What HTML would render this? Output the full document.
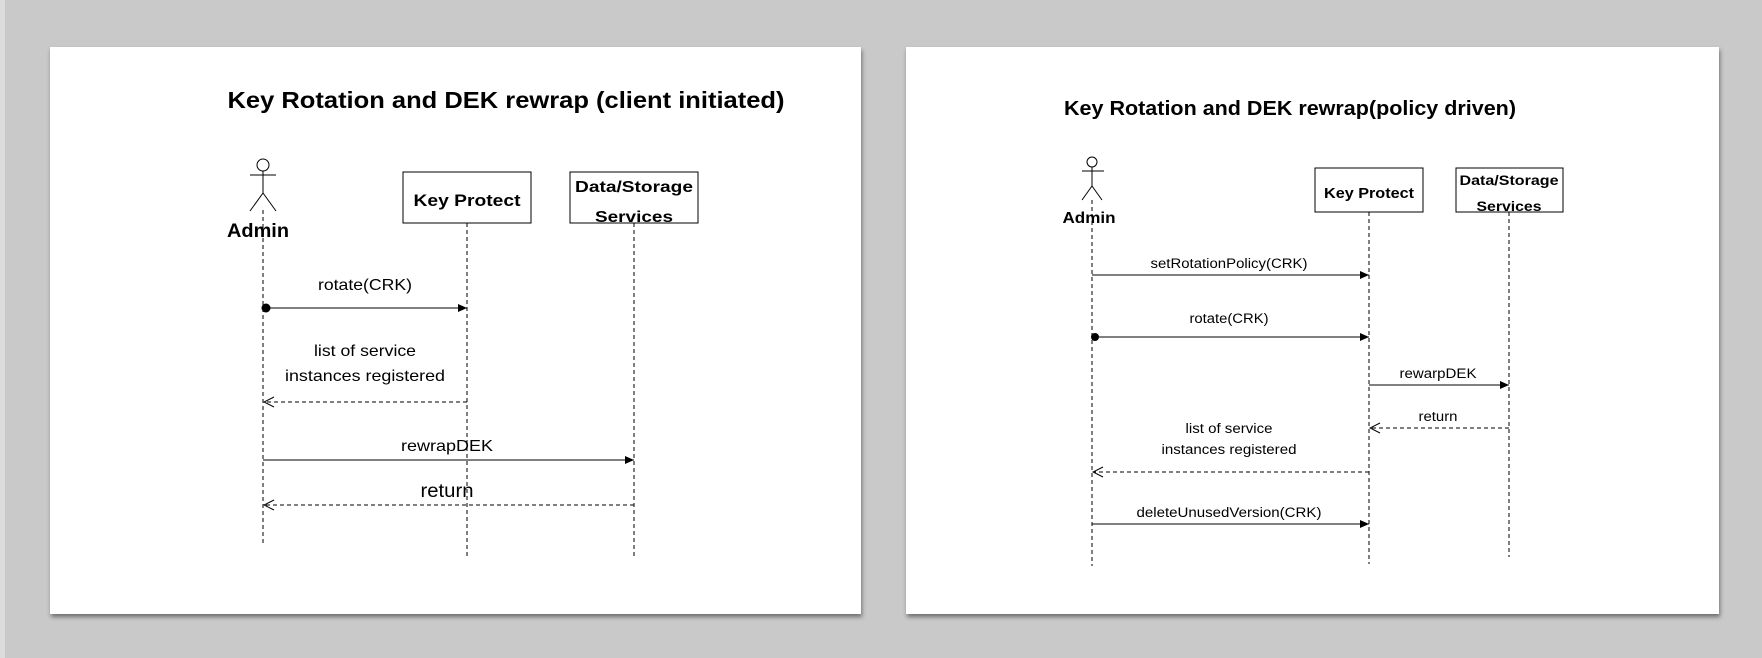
<!DOCTYPE html>
<html><head><meta charset="utf-8"><style>
html,body{margin:0;padding:0;background:#c8c9c8;}
svg{display:block;font-family:"Liberation Sans",Arial,sans-serif;}
</style></head><body>
<svg width="1762" height="658" viewBox="0 0 1762 658" xmlns="http://www.w3.org/2000/svg">
<defs>
<filter id="sh" x="-5%" y="-5%" width="110%" height="115%"><feDropShadow dx="1" dy="3" stdDeviation="2" flood-color="#000" flood-opacity="0.45"/></filter>
<marker id="fa" markerWidth="10" markerHeight="10" refX="9" refY="5" orient="auto" markerUnits="userSpaceOnUse"><path d="M0,1 L9,5 L0,9 Z" fill="#000"/></marker>
<marker id="oa" markerWidth="12" markerHeight="12" refX="11" refY="6" orient="auto" markerUnits="userSpaceOnUse"><path d="M1,1 L11,6 L1,11" fill="none" stroke="#000" stroke-width="1"/></marker>
</defs>
<rect x="0" y="0" width="5" height="658" fill="#dcdcdc"/>
<rect x="50" y="47" width="811" height="567" fill="#fff" filter="url(#sh)"/>
<rect x="906" y="47" width="813" height="567" fill="#fff" filter="url(#sh)"/>

<g stroke="#000" fill="none" stroke-width="1">
<circle cx="263" cy="165" r="6"/>
<line x1="250" y1="175" x2="276" y2="175"/>
<line x1="263" y1="171" x2="263" y2="193"/>
<line x1="263" y1="193" x2="250" y2="211"/>
<line x1="263" y1="193" x2="276" y2="211"/>
<rect x="403" y="172" width="128" height="51"/>
<rect x="570" y="172" width="128" height="51"/>
<g stroke-dasharray="4,3">
<line x1="263" y1="210" x2="263" y2="543"/>
<line x1="467" y1="223" x2="467" y2="556"/>
<line x1="634" y1="223" x2="634" y2="556"/>
<line x1="467" y1="402" x2="264" y2="402" marker-end="url(#oa)"/>
<line x1="634" y1="505" x2="264" y2="505" marker-end="url(#oa)"/>
</g>
<line x1="263" y1="308" x2="467" y2="308" marker-end="url(#fa)"/>
<line x1="263" y1="460" x2="634" y2="460" marker-end="url(#fa)"/>

<circle cx="1092" cy="162" r="5"/>
<line x1="1082" y1="171" x2="1104" y2="171"/>
<line x1="1092" y1="167" x2="1092" y2="186"/>
<line x1="1092" y1="186" x2="1082" y2="200"/>
<line x1="1092" y1="186" x2="1102" y2="200"/>
<rect x="1315" y="168" width="108" height="44"/>
<rect x="1456" y="168" width="107" height="44"/>
<g stroke-dasharray="4,3">
<line x1="1092" y1="200" x2="1092" y2="566"/>
<line x1="1369" y1="212" x2="1369" y2="564"/>
<line x1="1509" y1="212" x2="1509" y2="557"/>
<line x1="1509" y1="428" x2="1370" y2="428" marker-end="url(#oa)"/>
<line x1="1369" y1="472" x2="1093" y2="472" marker-end="url(#oa)"/>
</g>
<line x1="1092" y1="275" x2="1369" y2="275" marker-end="url(#fa)"/>
<line x1="1092" y1="337" x2="1369" y2="337" marker-end="url(#fa)"/>
<line x1="1369" y1="385" x2="1509" y2="385" marker-end="url(#fa)"/>
<line x1="1092" y1="524" x2="1369" y2="524" marker-end="url(#fa)"/>
</g>
<circle cx="266" cy="308" r="4.5" fill="#000"/>
<circle cx="1095" cy="337" r="4" fill="#000"/>

<g fill="#000" text-anchor="middle">
<text x="506" y="108" font-size="23" font-weight="bold" textLength="557" lengthAdjust="spacingAndGlyphs">Key Rotation and DEK rewrap (client initiated)</text>
<text x="258" y="237" font-size="19" font-weight="bold" textLength="62" lengthAdjust="spacingAndGlyphs">Admin</text>
<text x="467" y="206" font-size="17" font-weight="bold" textLength="107" lengthAdjust="spacingAndGlyphs">Key Protect</text>
<text x="634" y="192" font-size="16" font-weight="bold" textLength="118" lengthAdjust="spacingAndGlyphs">Data/Storage</text>
<text x="634" y="222" font-size="16" font-weight="bold" textLength="78" lengthAdjust="spacingAndGlyphs">Services</text>
<text x="365" y="290" font-size="16" textLength="94" lengthAdjust="spacingAndGlyphs">rotate(CRK)</text>
<text x="365" y="356" font-size="16" textLength="102" lengthAdjust="spacingAndGlyphs">list of service</text>
<text x="365" y="381" font-size="16" textLength="160" lengthAdjust="spacingAndGlyphs">instances registered</text>
<text x="447" y="451" font-size="16" textLength="92" lengthAdjust="spacingAndGlyphs">rewrapDEK</text>
<text x="447" y="497" font-size="19" textLength="53" lengthAdjust="spacingAndGlyphs">return</text>

<text x="1290" y="115" font-size="20" font-weight="bold" textLength="452" lengthAdjust="spacingAndGlyphs">Key Rotation and DEK rewrap(policy driven)</text>
<text x="1089" y="223" font-size="16" font-weight="bold" textLength="53" lengthAdjust="spacingAndGlyphs">Admin</text>
<text x="1369" y="198" font-size="15" font-weight="bold" textLength="90" lengthAdjust="spacingAndGlyphs">Key Protect</text>
<text x="1509" y="185" font-size="14" font-weight="bold" textLength="99" lengthAdjust="spacingAndGlyphs">Data/Storage</text>
<text x="1509" y="211" font-size="14" font-weight="bold" textLength="65" lengthAdjust="spacingAndGlyphs">Services</text>
<text x="1229" y="268" font-size="13.5" textLength="157" lengthAdjust="spacingAndGlyphs">setRotationPolicy(CRK)</text>
<text x="1229" y="323" font-size="13.5" textLength="79" lengthAdjust="spacingAndGlyphs">rotate(CRK)</text>
<text x="1438" y="378" font-size="13.5" textLength="77" lengthAdjust="spacingAndGlyphs">rewarpDEK</text>
<text x="1438" y="421" font-size="13.5" textLength="39" lengthAdjust="spacingAndGlyphs">return</text>
<text x="1229" y="433" font-size="13.5" textLength="87" lengthAdjust="spacingAndGlyphs">list of service</text>
<text x="1229" y="454" font-size="13.5" textLength="135" lengthAdjust="spacingAndGlyphs">instances registered</text>
<text x="1229" y="517" font-size="13.5" textLength="185" lengthAdjust="spacingAndGlyphs">deleteUnusedVersion(CRK)</text>
</g>
</svg>
</body></html>
